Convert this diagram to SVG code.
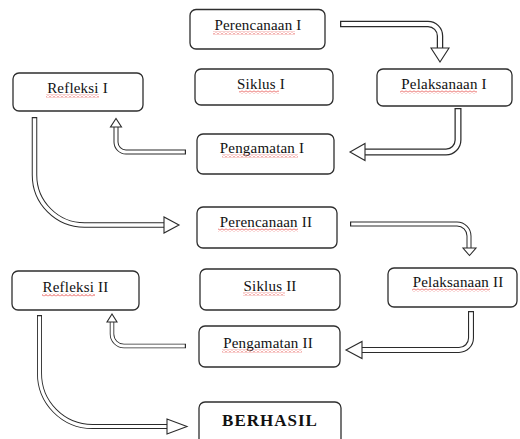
<svg xmlns="http://www.w3.org/2000/svg" width="520" height="439" viewBox="0 0 520 439">
<style>
.box{fill:#fff;stroke:#2e2e2e;stroke-width:1.3}
.t{font-family:"Liberation Serif","Times New Roman",serif;font-size:15px;fill:#111;text-anchor:middle;letter-spacing:0.2px}
.b{font-weight:bold;font-size:17px;letter-spacing:1px}
.o{fill:none;stroke:#2b2b2b}
.i{fill:none;stroke:#fff}
.hd{fill:#fff;stroke:#2b2b2b;stroke-width:1.1;stroke-linejoin:miter}
.sq{fill:url(#sq)}
</style>
<defs>
<pattern id="sq" width="4" height="3" patternUnits="userSpaceOnUse">
<path d="M0,2.5 L2,0.5 L4,2.5" fill="none" stroke="#e0201a" stroke-width="0.8"/>
</pattern>
</defs>
<g id="connectors">
<g id="a1">
<path class="o" stroke-width="6.5" d="M340,24 H428 A12,12 0 0 1 440,36 V50"/>
<path class="i" stroke-width="4" d="M341.3,24 H428 A12,12 0 0 1 440,36 V50"/>
<polygon class="hd" points="431,48 449,48 440,62"/>
</g>
<g id="a2">
<path class="o" stroke-width="7" d="M458,108 V140 A12,12 0 0 1 446,152 H362"/>
<path class="i" stroke-width="4.5" d="M458,109.3 V140 A12,12 0 0 1 446,152 H362"/>
<polygon class="hd" points="365,143.5 365,160.5 350,152"/>
</g>
<g id="a3">
<path class="o" stroke-width="5" d="M186,152 H126 A10,10 0 0 1 116,142 V125"/>
<path class="i" stroke-width="3" d="M184.8,152 H126 A10,10 0 0 1 116,142 V125"/>
<polygon class="hd" points="110.5,127 121.5,127 116,118.5"/>
</g>
<g id="a4">
<path class="o" stroke-width="5.5" d="M34.5,117 V175 A50,50 0 0 0 84.5,225 H166"/>
<path class="i" stroke-width="3.5" d="M34.5,118.3 V175 A50,50 0 0 0 84.5,225 H166"/>
<polygon class="hd" points="164,217 164,233 179,225"/>
</g>
<g id="a5">
<path class="o" stroke-width="5" d="M350,224 H457 A12,12 0 0 1 469,236 V249"/>
<path class="i" stroke-width="3" d="M351.2,224 H457 A12,12 0 0 1 469,236 V249"/>
<polygon class="hd" points="463,248 476,248 469.5,255.5"/>
</g>
<g id="a6">
<path class="o" stroke-width="6" d="M471,311 V338 A12,12 0 0 1 459,350 H362"/>
<path class="i" stroke-width="3.8" d="M471,312.3 V338 A12,12 0 0 1 459,350 H362"/>
<polygon class="hd" points="362,341.5 362,358.5 346,350"/>
</g>
<g id="a7">
<path class="o" stroke-width="4.5" d="M186,346 H124 A12,12 0 0 1 112,334 V321"/>
<path class="i" stroke-width="2.8" d="M184.8,346 H124 A12,12 0 0 1 112,334 V321"/>
<polygon class="hd" points="107,322 117,322 112,314"/>
</g>
<g id="a8">
<path class="o" stroke-width="5" d="M39.5,315 V373 A53,53 0 0 0 92.5,426.5 H169"/>
<path class="i" stroke-width="3.2" d="M39.5,316.2 V373 A53,53 0 0 0 92.5,426.5 H169"/>
<polygon class="hd" points="167,419 167,434 187,426.5"/>
</g>
</g>
<g id="perencanaan1">
<rect class="box" x="190" y="9.5" width="135" height="39.5" rx="6"/>
<text class="t" x="258" y="30">Perencanaan I</text>
<rect class="sq" x="213" y="31.5" width="82" height="3"/>
</g>
<g id="siklus1">
<rect class="box" x="195" y="69" width="138" height="36" rx="6"/>
<text class="t" x="261" y="89">Siklus I</text>
<rect class="sq" x="239" y="90.5" width="40" height="3"/>
</g>
<g id="pelaksanaan1">
<rect class="box" x="377" y="69" width="135" height="37" rx="6"/>
<text class="t" x="444" y="89">Pelaksanaan I</text>
<rect class="sq" x="400" y="90.5" width="77" height="3"/>
</g>
<g id="refleksi1">
<rect class="box" x="13" y="73" width="130" height="38" rx="6"/>
<text class="t" x="77.5" y="93">Refleksi I</text>
<rect class="sq" x="46" y="94.5" width="53" height="3"/>
</g>
<g id="pengamatan1">
<rect class="box" x="197" y="134" width="137" height="40" rx="6"/>
<text class="t" x="262" y="153">Pengamatan I</text>
<rect class="sq" x="222" y="154.5" width="76" height="3"/>
</g>
<g id="perencanaan2">
<rect class="box" x="197" y="207" width="140" height="41" rx="6"/>
<text class="t" x="266" y="227">Perencanaan II</text>
<rect class="sq" x="218" y="228.5" width="80" height="3"/>
</g>
<g id="pelaksanaan2">
<rect class="box" x="388" y="268" width="129" height="39" rx="6"/>
<text class="t" x="458" y="287">Pelaksanaan II</text>
<rect class="sq" x="412" y="288.5" width="78" height="3"/>
</g>
<g id="refleksi2">
<rect class="box" x="12" y="271" width="127" height="39" rx="6"/>
<text class="t" x="75.5" y="292">Refleksi II</text>
<rect class="sq" x="42" y="293.5" width="53" height="3"/>
</g>
<g id="siklus2">
<rect class="box" x="200" y="269" width="140" height="41" rx="6"/>
<text class="t" x="270" y="291">Siklus II</text>
<rect class="sq" x="243" y="292.5" width="42" height="3"/>
</g>
<g id="pengamatan2">
<rect class="box" x="199" y="326" width="141" height="41" rx="6"/>
<text class="t" x="268" y="348">Pengamatan II</text>
<rect class="sq" x="222" y="349.5" width="80" height="3"/>
</g>
<g id="berhasil">
<rect class="box" x="199" y="402" width="142" height="45" rx="6"/>
<text class="t b" x="270" y="426">BERHASIL</text>
</g>
</svg>
